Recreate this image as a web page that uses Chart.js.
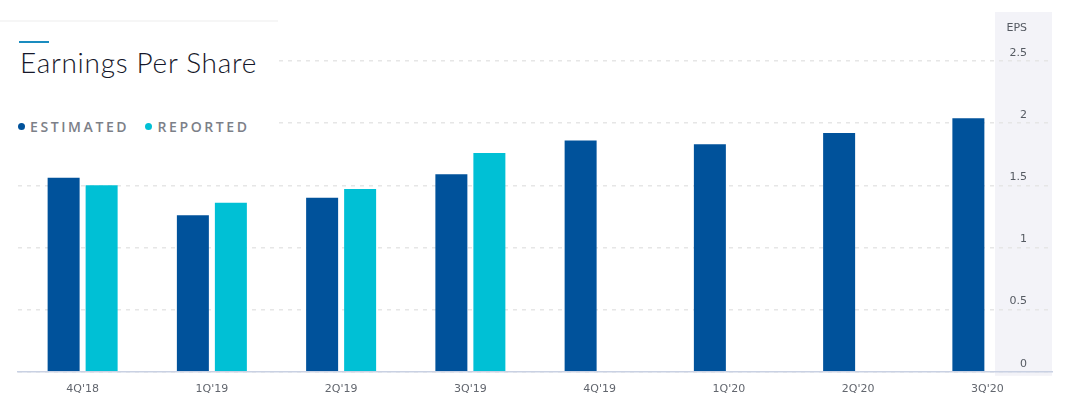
<!DOCTYPE html>
<html>
<head>
<meta charset="utf-8">
<script src="https://cdn.jsdelivr.net/npm/chart.js@4"></script>
<style>
  body { margin: 0; background: #fff; }
  #wrap { position: relative; width: 1070px; height: 412px; overflow: hidden; }
  #wrap canvas { position: absolute; left: 0; top: 0; }
  .head { position: absolute; left: 0; top: 20px; width: 278px; height: 122px; background: #fff; border-top: 2px solid #f6f6f6; }
  .head .bar { position: absolute; left: 19px; top: 19px; width: 30px; height: 2px; background: #1a8cbf; }
  .head h1 { position: absolute; left: 20px; top: 26px; margin: 0; font: 300 28px/28px Lato, "Open Sans", sans-serif; color: #15172a; letter-spacing: 0.7px; white-space: nowrap; }
  .legend { position: absolute; left: 18px; top: 98px; font: 600 14px/14px "Open Sans", sans-serif; color: #7c8088; letter-spacing: 2.6px; white-space: nowrap; }
  .legend span { display: inline-block; margin-right: 10px; }
  .legend i { display: inline-block; width: 7px; height: 7px; border-radius: 50%; margin-right: 5px; vertical-align: 2px; }
</style>
</head>
<body>
<div id="wrap">
  <canvas id="epsChart"></canvas>
  <div class="head">
    <div class="bar"></div>
    <h1>Earnings Per Share</h1>
    <div class="legend">
      <span><i style="background:#00529b"></i>ESTIMATED</span>
      <span><i style="background:#00c0d5"></i>REPORTED</span>
    </div>
  </div>
</div>
<script>
  // quarters shown on the x axis
  var quarters = ["4Q'18", "1Q'19", "2Q'19", "3Q'19", "4Q'19", "1Q'20", "2Q'20", "3Q'20"]
  // EPS values
  var estimated = [1.56, 1.26, 1.40, 1.59, 1.86, 1.83, 1.92, 2.04]
  var reported = [1.50, 1.36, 1.47, 1.76, null, null, null, null]
  // y axis ticks 0 .. 2.5 step 0.5
  var yMin = 0
  var yMax = 2.5
  var yStep = 0.5
  var yTitle = 'EPS'

  var estColor = '#00529b'
  var repColor = '#00c0d5'

  // grey strip at the right, y labels drawn inside it (above each grid line)
  var sidePanel = {
    id: 'sidePanel',
    beforeDraw: function (chart) {
      var ctx = chart.ctx
      var area = chart.chartArea
      ctx.save()
      ctx.fillStyle = '#f3f3f8'
      ctx.fillRect(area.right - 57, 12, 57, area.bottom + 4 - 12)
      ctx.restore()
    },
    afterDraw: function (chart) {
      var ctx = chart.ctx
      var area = chart.chartArea
      var yScale = chart.scales.y
      var x = area.right - 25
      ctx.save()
      ctx.fillStyle = '#555a62'
      ctx.font = '11px "DejaVu Sans", sans-serif'
      ctx.textAlign = 'right'
      ctx.textBaseline = 'middle'
      ctx.fillText(yTitle, x, 28)
      yScale.ticks.forEach(function (t) {
        ctx.fillText(String(t.value), x, yScale.getPixelForValue(t.value) - 8)
      })
      ctx.restore()
    }
  }

  var ctx = document.getElementById('epsChart').getContext('2d')
  var epsChart = new Chart(ctx, {
    type: 'bar',
    data: {
      labels: quarters,
      datasets: [{
        label: 'ESTIMATED',
        data: estimated,
        backgroundColor: estColor,
        categoryPercentage: 0.588,
        barPercentage: 0.842
      }, {
        label: 'REPORTED',
        data: reported,
        backgroundColor: repColor,
        categoryPercentage: 0.588,
        barPercentage: 0.842
      }]
    },
    options: {
      responsive: true,
      maintainAspectRatio: false,
      animation: false,
      layout: {
        padding: { left: 18, right: 18, top: 61, bottom: 5 }
      },
      plugins: {
        legend: { display: false },
        title: { display: false },
        tooltip: { enabled: false }
      },
      scales: {
        x: {
          grid: { display: false, drawTicks: false },
          border: { display: true, color: '#c9d1e3', width: 1.5 },
          ticks: {
            color: '#62666e',
            font: { family: 'DejaVu Sans', size: 11 },
            padding: 11
          }
        },
        y: {
          position: 'right',
          min: yMin,
          max: yMax,
          grid: {
            color: '#e6e6e6',
            lineWidth: 1.5,
            drawTicks: false
          },
          border: { display: false, dash: [4, 5] },
          ticks: {
            display: false,
            stepSize: yStep
          }
        }
      }
    },
    plugins: [sidePanel]
  })
</script>
</body>
</html>
